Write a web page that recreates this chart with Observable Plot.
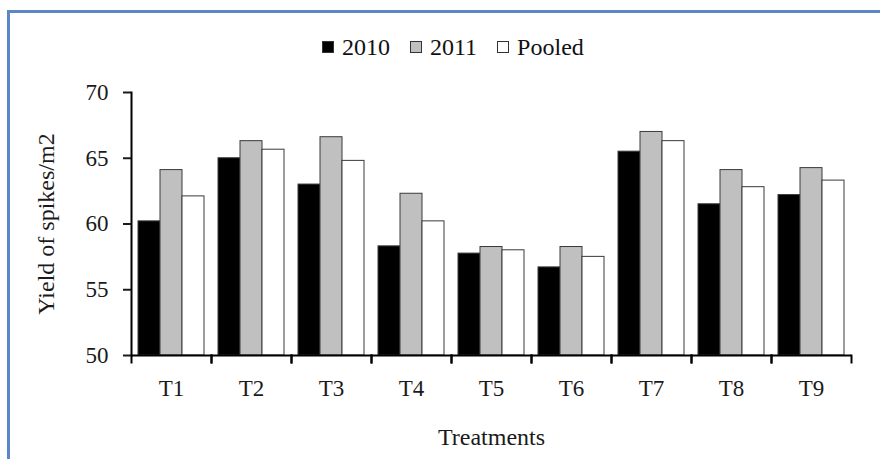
<!DOCTYPE html>
<html>
<head>
<meta charset="utf-8">
<script src="https://cdn.jsdelivr.net/npm/d3@7"></script>
<script src="https://cdn.jsdelivr.net/npm/@observablehq/plot@0.6"></script>
<style>
  html, body { margin: 0; padding: 0; background: #fff; }
  #wrap { position: relative; width: 880px; height: 459px; overflow: hidden; background: #fff; font-family: "Liberation Serif", "Times New Roman", serif; }
  #bt { position: absolute; left: 7px; top: 10px; width: 873px; height: 3px; background: #5b87c4; }
  #bl { position: absolute; left: 7px; top: 10px; width: 3px; height: 449px; background: #5b87c4; }
  #legend { position: absolute; left: 322px; top: 32px; height: 30px; display: flex; align-items: center; font-family: "Liberation Serif", serif; font-size: 24px; color: #111; white-space: nowrap; }
  #legend .item { display: flex; align-items: center; margin-right: 20px; }
  #legend .sw { width: 12px; height: 12px; box-sizing: border-box; border: 1px solid #333; margin-right: 8px; }
  #chart { position: absolute; left: 0; top: 70px; }
  #chart svg text { font-family: "Liberation Serif", serif !important; font-variant: normal !important; }
</style>
</head>
<body>
<div id="wrap">
  <div id="bt"></div>
  <div id="bl"></div>
  <div id="legend"></div>
  <div id="chart"></div>
</div>
<script>
const treatments = ["T1", "T2", "T3", "T4", "T5", "T6", "T7", "T8", "T9"];
const seriesNames = ["2010", "2011", "Pooled"];
const values2010 = [60.2, 65.0, 63.0, 58.3, 57.75, 56.7, 65.5, 61.5, 62.2];
const values2011 = [64.1, 66.3, 66.6, 62.3, 58.25, 58.25, 67.0, 64.1, 64.25];
const valuesPooled = [62.1, 65.65, 64.8, 60.2, 58.0, 57.5, 66.3, 62.8, 63.3];
const seriesColors = ["#000000", "#c0c0c0", "#ffffff"];
const yTicks = [50, 55, 60, 65, 70];
const yLabel = "Yield of spikes/m2";
const xLabel = "Treatments";

const seriesValues = [values2010, values2011, valuesPooled];
const data = treatments.flatMap((t, i) =>
  seriesNames.map((s, j) => ({treatment: t, series: s, value: seriesValues[j][i]}))
);

// legend
const legend = document.getElementById("legend");
seriesNames.forEach((s, j) => {
  const item = document.createElement("div");
  item.className = "item";
  const sw = document.createElement("div");
  sw.className = "sw";
  sw.style.background = seriesColors[j];
  const lab = document.createElement("span");
  lab.textContent = s;
  item.appendChild(sw);
  item.appendChild(lab);
  legend.appendChild(item);
});

const H = 389;
const mt = 22, mb = 104;
const innerH = H - mt - mb;

const chart = Plot.plot({
  width: 880,
  height: H,
  marginTop: mt,
  marginBottom: mb,
  marginLeft: 127,
  marginRight: 25,
  style: {fontFamily: "'Liberation Serif', 'Times New Roman', serif", fontSize: "22px", color: "#1a1a1a", background: "transparent"},
  fx: {domain: treatments, padding: 0},
  x: {domain: seriesNames, paddingInner: 0, paddingOuter: 0.28, axis: null},
  y: {domain: [50, 70]},
  color: {domain: seriesNames, range: seriesColors},
  marks: [
    Plot.barY(data, {fx: "treatment", x: "series", y1: 50, y2: "value", fill: "series", stroke: "#3a3a3a", strokeWidth: 1}),
    Plot.ruleY([50], {stroke: "#000", strokeWidth: 2}),
    Plot.frame({anchor: "left", facetAnchor: "left", stroke: "#000", strokeWidth: 2}),
    Plot.frame({anchor: "left", insetTop: innerH, insetBottom: -7, stroke: "#000", strokeWidth: 2}),
    Plot.frame({anchor: "right", insetTop: innerH, insetBottom: -7, stroke: "#000", strokeWidth: 2}),
    Plot.axisY({ticks: yTicks, tickSize: 8, tickPadding: 15, strokeWidth: 2, label: null, fontSize: 23}),
    Plot.axisY({ticks: [], tickSize: 0, label: yLabel, labelAnchor: "center", labelArrow: "none", labelOffset: 95, fontSize: 24}),
    Plot.axisFx({anchor: "bottom", tickSize: 0, tickPadding: 24, label: null, fontSize: 23}),
    Plot.axisFx({anchor: "bottom", ticks: [], tickSize: 0, label: xLabel, labelAnchor: "center", labelArrow: "none", labelOffset: 89, fontSize: 24})
  ]
});
document.getElementById("chart").appendChild(chart);
</script>
</body>
</html>
